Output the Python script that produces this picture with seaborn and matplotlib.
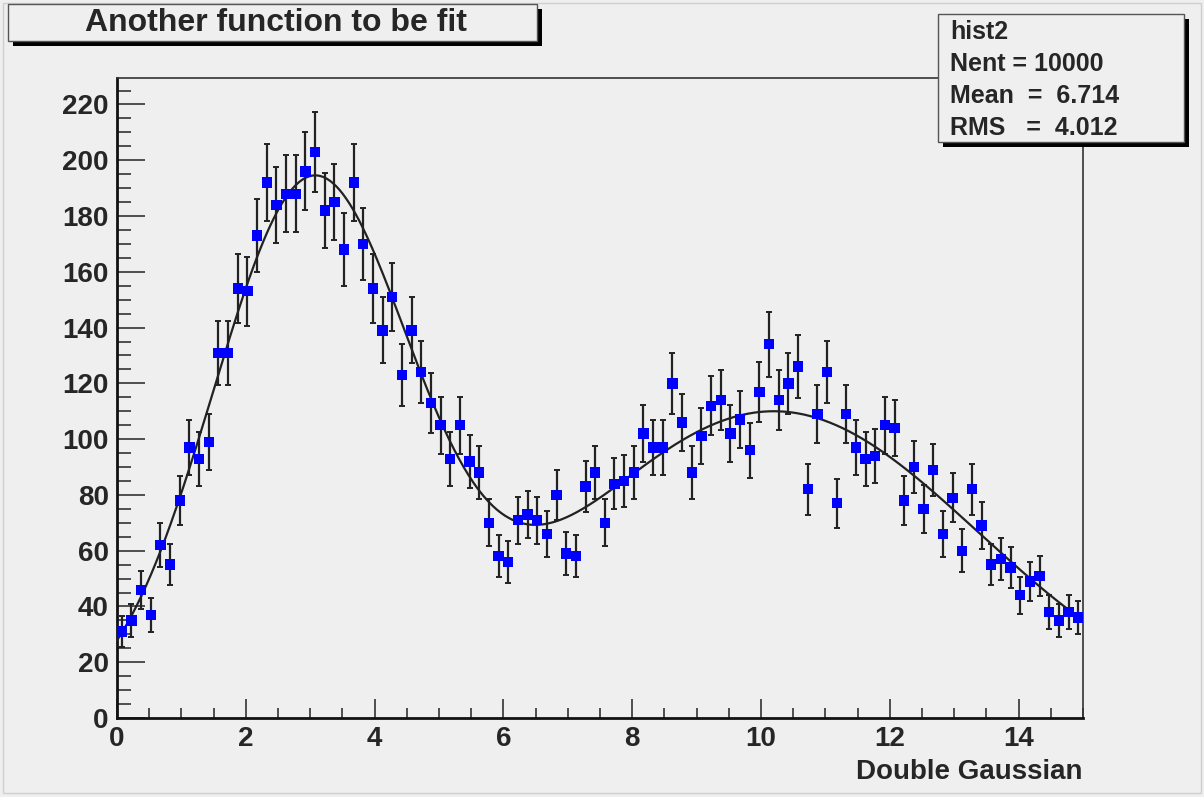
import numpy as np
import pandas as pd
import matplotlib
matplotlib.use("Agg")
import matplotlib.pyplot as plt
import seaborn as sns
from matplotlib.patches import Rectangle
from matplotlib.ticker import MultipleLocator

# ---- data ----
bin_width = 0.15
n_bins = 100
counts = [31, 35, 46, 37, 62, 55, 78, 97, 93, 99,
          131, 131, 154, 153, 173, 192, 184, 188, 188, 196,
          203, 182, 185, 168, 192, 170, 154, 139, 151, 123,
          139, 124, 113, 105, 93, 105, 92, 88, 70, 58,
          56, 71, 73, 71, 66, 80, 59, 58, 83, 88,
          70, 84, 85, 88, 102, 97, 97, 120, 106, 88,
          101, 112, 114, 102, 107, 96, 117, 134, 114, 120,
          126, 82, 109, 124, 77, 109, 97, 93, 94, 105,
          104, 78, 90, 75, 89, 66, 79, 60, 82, 69,
          55, 57, 54, 44, 49, 51, 38, 35, 38, 36]
# double gaussian fit parameters (amplitude, mean, sigma)
fit_g1 = [186.0, 3.0, 1.53]
fit_g2 = [110.0, 10.2, 3.17]
title = "Another function to be fit"
xlabel = "Double Gaussian"
stats_lines = ["hist2", "Nent = 10000", "Mean  =  6.714", "RMS   =  4.012"]
x_ticks = [0, 2, 4, 6, 8, 10, 12, 14]
y_ticks = [0, 20, 40, 60, 80, 100, 120, 140, 160, 180, 200, 220]

centers = (np.arange(n_bins) + 0.5) * bin_width
df = pd.DataFrame({"x": centers, "y": counts, "err": np.sqrt(counts)})
xf = np.linspace(0, 15, 600)
def gaus(x, p):
    return p[0] * np.exp(-0.5 * ((x - p[1]) / p[2]) ** 2)
fit_df = pd.DataFrame({"x": xf, "y": gaus(xf, fit_g1) + gaus(xf, fit_g2)})

# ---- figure ----
W, H = 1204, 797
bg = "#efefef"
sns.set_style("white")
plt.rcParams["font.family"] = ["Liberation Sans", "DejaVu Sans"]
plt.rcParams["font.weight"] = "bold"
fig = plt.figure(figsize=(W / 100, H / 100), dpi=100, facecolor=bg)

def fx(px):
    return px / W
def fy(py):
    return 1 - py / H

ax = fig.add_axes([fx(117), fy(718), (1083 - 117) / W, (718 - 78) / H])
ax.set_facecolor(bg)

ax.errorbar(df["x"], df["y"], yerr=df["err"], fmt="none", ecolor="#222222",
            elinewidth=1.6, capsize=2.5, capthick=1.4, zorder=2)
sns.lineplot(data=fit_df, x="x", y="y", ax=ax, color="#222222", linewidth=1.6, zorder=3)
sns.scatterplot(data=df, x="x", y="y", ax=ax, marker="s", s=55, color="#0000ff",
                edgecolor="none", linewidth=0, zorder=4)

ax.set_xlim(0, 15)
ax.set_ylim(0, 229.5)
ax.set_xlabel("")
ax.set_ylabel("")
ax.set_xticks(x_ticks)
ax.set_yticks(y_ticks)
ax.xaxis.set_minor_locator(MultipleLocator(0.5))
ax.yaxis.set_minor_locator(MultipleLocator(5))
ax.tick_params(axis="y", which="major", direction="in", length=20, width=1.2,
               labelsize=20, pad=6, left=True, right=False, color="#333333")
ax.tick_params(axis="y", which="minor", direction="in", length=10, width=1.2,
               left=True, right=False, color="#333333")
ax.tick_params(axis="x", which="major", direction="in", length=14, width=1.2,
               labelsize=20, pad=6, bottom=True, top=False, color="#333333")
ax.tick_params(axis="x", which="minor", direction="in", length=7, width=1.2,
               bottom=True, top=False, color="#333333")
for lab in ax.get_xticklabels() + ax.get_yticklabels():
    lab.set_fontweight("bold")
for side in ["left", "bottom"]:
    ax.spines[side].set_linewidth(2.0)
    ax.spines[side].set_color("#111111")
for side in ["top", "right"]:
    ax.spines[side].set_linewidth(1.2)
    ax.spines[side].set_color("#333333")

fig.text(fx(1083), fy(772), xlabel, ha="right", va="center", fontsize=20,
         fontweight="bold")

# title box with shadow
def shadow_box(x0, y0, x1, y1, off):
    fig.patches.append(Rectangle((fx(x0 + off), fy(y1 + off)), (x1 - x0) / W, (y1 - y0) / H,
                                 transform=fig.transFigure, facecolor="black",
                                 edgecolor="none", zorder=5))
    fig.patches.append(Rectangle((fx(x0), fy(y1)), (x1 - x0) / W, (y1 - y0) / H,
                                 transform=fig.transFigure, facecolor=bg,
                                 edgecolor="#555555", linewidth=1.0, zorder=6))

shadow_box(8, 4, 537, 41, 5)
fig.text(fx(276), fy(23), title, ha="center", va="center", fontsize=23,
         fontweight="bold", zorder=7)

shadow_box(938, 14, 1184, 142, 5)
for i, line in enumerate(stats_lines):
    fig.text(fx(950), fy(32 + i * 32), line, ha="left", va="center", fontsize=18,
             fontweight="bold", zorder=7)

# canvas border
fig.patches.append(Rectangle((fx(3), fy(793)), (W - 6) / W, (793 - 3) / H,
                             transform=fig.transFigure, facecolor="none",
                             edgecolor="#cfcfcf", linewidth=1.0, zorder=1))

fig.savefig("out.png", dpi=100, facecolor=bg)
